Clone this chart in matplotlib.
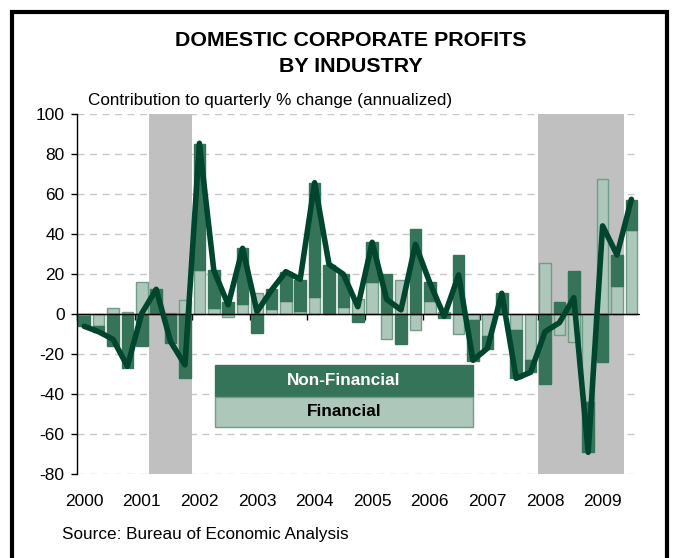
import matplotlib
matplotlib.use('Agg')
import matplotlib.pyplot as plt
from matplotlib.patches import Rectangle
import numpy as np

plt.rcParams['font.family'] = ['Liberation Sans', 'DejaVu Sans']
plt.rcParams['axes.unicode_minus'] = False

# quarterly contributions, 2000Q1 .. 2009Q3
financial = [-1, -6, 3.3, 1, 16.3, 0.5, 0.5, 7.2,
             22, 3, -1.5, 5, 10.5, 2.7, 6.7, 1.8,
             8.5, 0.8, 3.5, 7.5, 16.3, -12.5, 17, -7.8,
             6.8, 1, -10, -2.8, -10.8, 0, -7.8, -22.8,
             25.5, -10.3, -14, -43.7, 67.5, 14.2, 42.2]
non_financial = [-5, -3, -16, -27, -15.8, 12, -14.5, -32,
                 63, 19, 6, 28, -9.5, 9.8, 14.3, 15.5,
                 57, 24, 16.5, -4, 20, 20, -15, 42.7,
                 9.2, -2, 29.7, -20.3, -6.7, 10.5, -24.2, -5.8,
                 -34.8, 6.2, 21.8, -25.3, -23.7, 15.5, 15]
total = [-6, -8.7, -12.5, -26, 0.5, 12.5, -13.7, -25.3,
         85.5, 22, 4.7, 33, 1.3, 12, 21.3, 17.5,
         65.8, 25, 20, 3.8, 36, 7.5, 2.2, 35,
         15.8, -1, 19.7, -23, -17, 10.5, -32, -29,
         -8.7, -4.2, 8.3, -69, 44.2, 29.7, 57.5]
years = ['2000', '2001', '2002', '2003', '2004', '2005', '2006', '2007', '2008', '2009']
# recessions, as (first quarter index, last quarter index + 1)
recessions = [(5, 8), (32, 38)]

dark = '#367459'
light = '#aec7bb'
line_col = '#00452e'

fin = np.array(financial)
nonfin = np.array(non_financial)
x = np.arange(len(fin)) + 0.5
# non-financial sits on top of financial when same sign, else starts at zero
nf_bottom = np.where(np.sign(fin) == np.sign(nonfin), fin, 0)

fig = plt.figure(figsize=(6.78, 5.58), dpi=100)
ax = fig.add_axes([77/678, 1 - 474.3/558, 561.6/678, 360/558])

for r in recessions:
    ax.axvspan(r[0], r[1], color='#c0c0c0', lw=0, zorder=1)

for v in range(-80, 101, 20):
    if v != 0:
        ax.axhline(v, color='#c8c8c8', lw=1, ls=(0, (5, 4)), zorder=0.5)

ax.bar(x, fin, width=0.8, color=light, edgecolor='#6f9e88', lw=1, zorder=2)
ax.bar(x, nonfin, width=0.8, bottom=nf_bottom, color=dark, edgecolor=dark, lw=1, zorder=2)
ax.axhline(0, color='black', lw=1, zorder=3)
ax.plot(x, total, color=line_col, lw=4, zorder=4, solid_joinstyle='round',
        solid_capstyle='round')

ax.set_xlim(0, len(fin))
ax.set_ylim(-80, 100)
ax.set_yticks(range(-80, 101, 20))
ax.tick_params(axis='y', direction='out', length=4, width=1, labelsize=12.5, pad=5)
for s in ['top', 'right']:
    ax.spines[s].set_visible(False)
ax.spines['bottom'].set_position(('data', 0))
ax.spines['bottom'].set_zorder(3)
ax.spines['left'].set_linewidth(1)
ax.set_xticks(np.arange(0, len(fin), 4))
ax.set_xticklabels([])
ax.tick_params(axis='x', direction='out', length=4, width=1)

trans = ax.get_xaxis_transform()
for i, yr in enumerate(years):
    ax.text(4*i + 0.5, -0.075, yr, transform=trans, ha='center', va='center', fontsize=12.5)

# legend box
ax.add_patch(Rectangle((9.6, -41.3), 17.9, 16, transform=ax.transData, facecolor=dark,
                       edgecolor=dark, lw=1, zorder=5))
ax.add_patch(Rectangle((9.6, -56.3), 17.9, 15, transform=ax.transData, facecolor=light,
                       edgecolor='#6f9e88', lw=1, zorder=5))
ax.text(18.55, -33.3, 'Non-Financial', color='white', fontsize=12.3, fontweight='bold',
        ha='center', va='center', zorder=6)
ax.text(18.55, -48.8, 'Financial', color='black', fontsize=12.3, fontweight='bold',
        ha='center', va='center', zorder=6)

fig.text(351/678, 1 - 40/558, 'DOMESTIC CORPORATE PROFITS', ha='center', va='center',
         fontsize=15.4, fontweight='bold')
fig.text(351/678, 1 - 66/558, 'BY INDUSTRY', ha='center', va='center',
         fontsize=15.4, fontweight='bold')
fig.text(88/678, 1 - 101/558, 'Contribution to quarterly % change (annualized)',
         ha='left', va='center', fontsize=12.3)
fig.text(62/678, 1 - 535/558, 'Source: Bureau of Economic Analysis', ha='left',
         va='center', fontsize=12.3)

fig.patches.append(Rectangle((12/678, -0.05), 655/678, 1.05 - 12/558, transform=fig.transFigure,
                             fill=False, edgecolor='black', lw=3))

fig.savefig('out.png', dpi=100)
